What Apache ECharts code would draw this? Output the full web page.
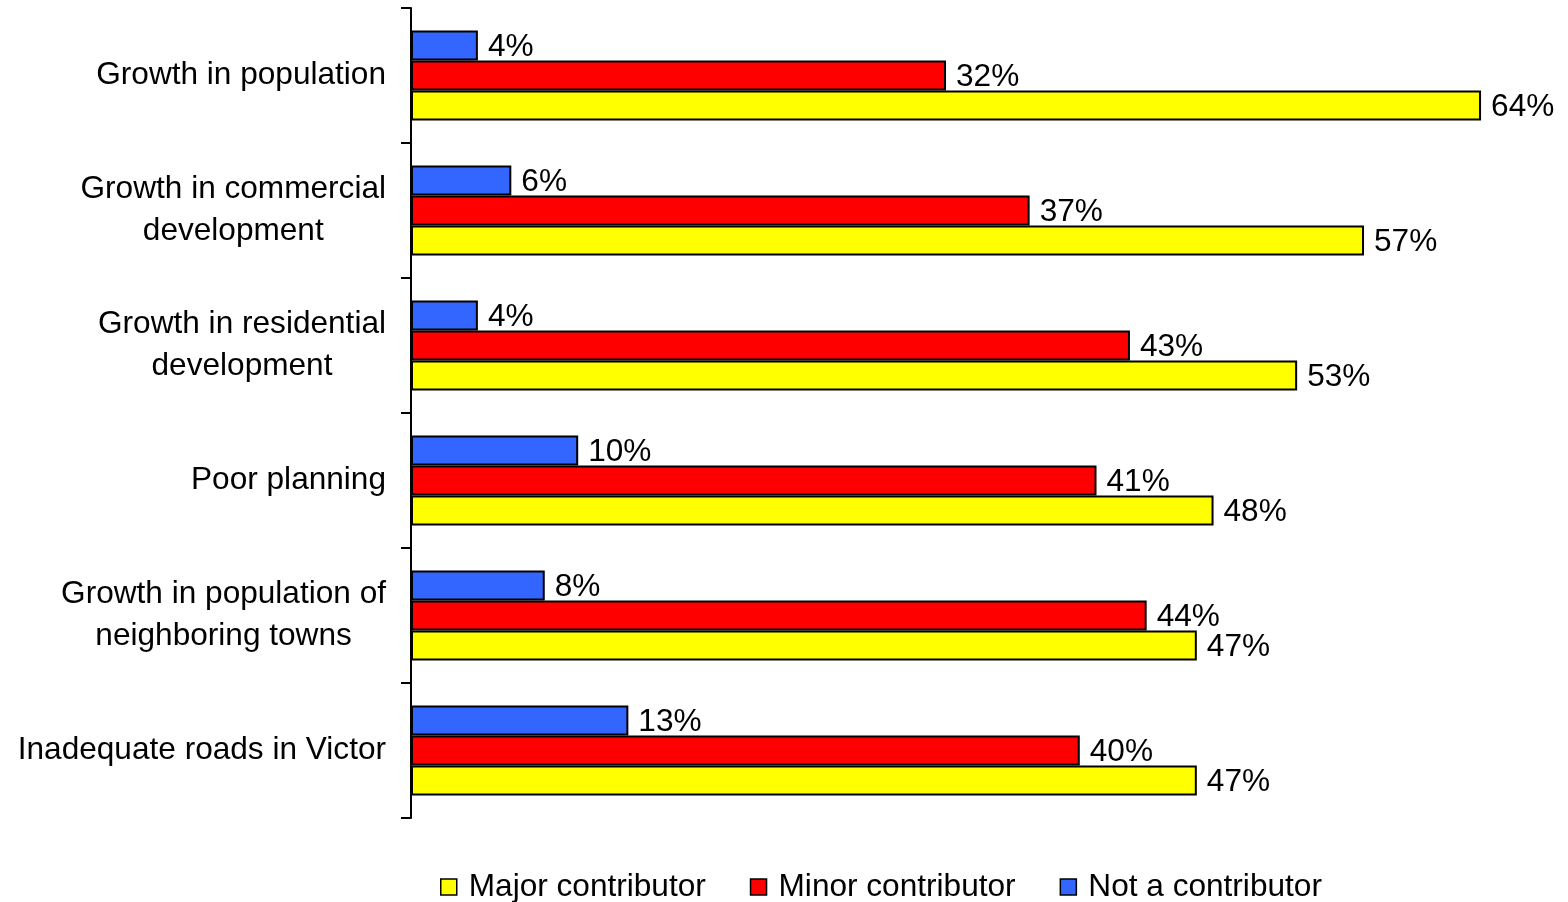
<!DOCTYPE html>
<html>
<head>
<meta charset="utf-8">
<script src="https://cdn.jsdelivr.net/npm/echarts@6/dist/echarts.min.js"></script>
<style>
html,body{margin:0;padding:0;background:#fff;}
#chart{width:1568px;height:902px;}
</style>
</head>
<body>
<div id="chart"></div>
<script>
const categories = [
  "Growth in population",
  "Growth in commercial\ndevelopment",
  "Growth in residential\ndevelopment",
  "Poor planning",
  "Growth in population of\nneighboring towns",
  "Inadequate roads in Victor"
];
const seriesNames = ["Major contributor", "Minor contributor", "Not a contributor"];
const majorValues = [64, 57, 53, 48, 47, 47];
const minorValues = [32, 37, 43, 41, 44, 40];
const notValues = [4, 6, 4, 10, 8, 13];
const colors = ["#FFFF00", "#FF0000", "#3366FF"];

const FONT = "Liberation Sans, Arial, sans-serif";
const FS = 31.6;

function makeSeries(name, data, color) {
  return {
    name: name,
    type: "bar",
    data: data,
    barWidth: 30,
    barGap: "0%",
    itemStyle: { color: color, borderColor: "#000", borderWidth: 2 },
    label: {
      show: true,
      position: "right",
      distance: 10,
      offset: [0, 2],
      formatter: "{c}%",
      color: "#000",
      fontFamily: FONT,
      fontSize: FS
    },
    emphasis: { disabled: true }
  };
}

const chart = echarts.init(document.getElementById("chart"), null, { renderer: "canvas" });
chart.setOption({
  animation: false,
  backgroundColor: "#fff",
  grid: { left: 411, top: 8, bottom: 84, right: 53.5, containLabel: false },
  xAxis: {
    type: "value",
    min: 0,
    max: 66,
    show: false
  },
  yAxis: {
    type: "category",
    data: categories,
    inverse: true,
    axisLine: { show: true, lineStyle: { color: "#000", width: 2 } },
    axisTick: { show: true, inside: false, length: 10, lineStyle: { color: "#000", width: 2 } },
    axisLabel: {
      margin: 25,
      color: "#000",
      fontFamily: FONT,
      fontSize: FS,
      formatter: function (v) {
        return v.split("\n").map(function (s) { return "{c|" + s + "}"; }).join("\n");
      },
      rich: {
        c: { align: "center", fontFamily: FONT, fontSize: FS, lineHeight: 42, color: "#000" }
      }
    },
    splitLine: { show: false }
  },
  legend: {
    data: seriesNames,
    bottom: -6,
    left: 435,
    itemWidth: 16,
    itemHeight: 16,
    itemGap: 44,
    icon: "rect",
    itemStyle: { borderColor: "#000", borderWidth: 1.5 },
    textStyle: { fontFamily: FONT, fontSize: FS, color: "#000", padding: [0, 0, 0, 7] }
  },
  series: [
    makeSeries(seriesNames[2], notValues, colors[2]),
    makeSeries(seriesNames[1], minorValues, colors[1]),
    makeSeries(seriesNames[0], majorValues, colors[0])
  ]
});
</script>
</body>
</html>
